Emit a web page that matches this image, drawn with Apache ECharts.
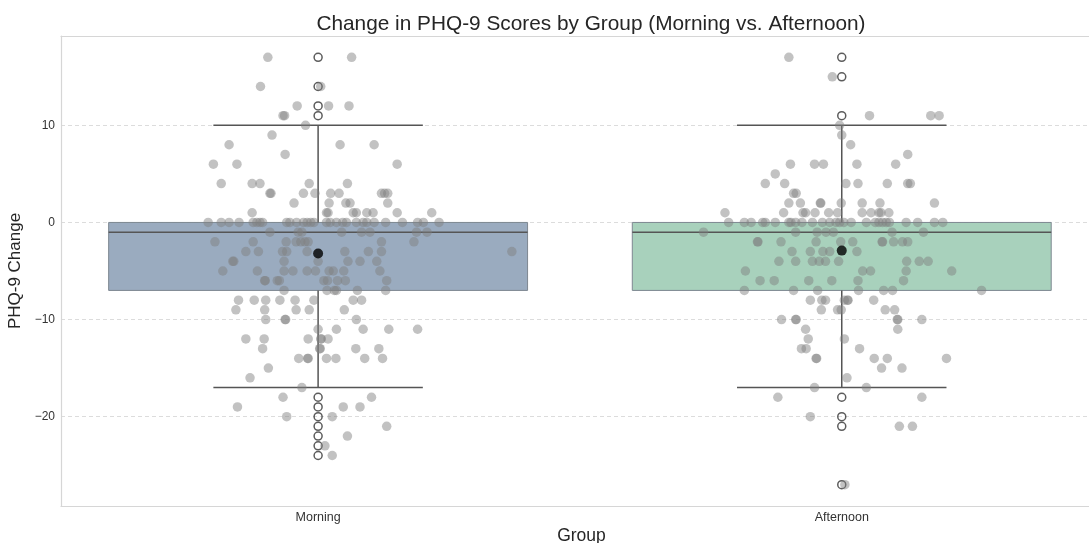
<!DOCTYPE html>
<html>
<head>
<meta charset="utf-8">
<script src="https://cdn.jsdelivr.net/npm/echarts@6/dist/echarts.min.js"></script>
<style>html,body{margin:0;padding:0;background:#fff;}#chart{width:1089px;height:543px;}</style>
</head>
<body>
<div id="chart"></div>
<script>
// ---- data ----
const groups = ['Morning', 'Afternoon'];
const yTicks = [-20, -10, 0, 10];
// box stats: [whiskerLow, Q1, median, Q3, whiskerHigh]
const morningBox = [-17, -7, -1, 0, 10];
const afternoonBox = [-17, -7, -1, 0, 10];
const morningMean = -3.2;
const afternoonMean = -2.9;
const morningFliers = [17, 14, 12, 11, -18, -19, -20, -21, -22, -23, -24];
const afternoonFliers = [17, 15, 11, -18, -20, -21, -27];
// jittered points: [jitter offset (category units), PHQ-9 change]
const morningPoints = [
  [-0.096,17],[0.064,17],[-0.110,14],[0.005,14],[-0.040,12],[0.020,12],[0.059,12],
  [-0.067,11],[-0.064,11],[-0.024,10],[-0.088,9],[-0.170,8],[0.042,8],[0.107,8],
  [-0.063,7],[-0.200,6],[-0.155,6],[0.151,6],
  [-0.185,4],[-0.126,4],[-0.111,4],[-0.017,4],[0.056,4],
  [-0.092,3],[-0.090,3],[-0.028,3],[-0.006,3],[0.024,3],[0.040,3],[0.121,3],[0.127,3],[0.133,3],
  [-0.046,2],[0.021,2],[0.053,2],[0.061,2],[0.133,2],
  [-0.126,1],[0.016,1],[0.019,1],[0.067,1],[0.073,1],[0.093,1],[0.105,1],[0.151,1],[0.217,1],
  [-0.210,0],[-0.185,0],[-0.170,0],[-0.151,0],[-0.124,0],[-0.117,0],[-0.111,0],[-0.106,0],
  [-0.060,0],[-0.054,0],[-0.041,0],[-0.028,0],[-0.021,0],[-0.014,0],[-0.008,0],[0.016,0],
  [0.023,0],[0.035,0],[0.047,0],[0.054,0],[0.073,0],[0.086,0],[0.093,0],[0.107,0],[0.129,0],
  [0.161,0],[0.190,0],[0.201,0],[0.231,0],
  [-0.092,-1],[-0.038,-1],[-0.031,-1],[0.045,-1],[0.083,-1],[0.099,-1],[0.188,-1],[0.208,-1],
  [-0.197,-2],[-0.124,-2],[-0.061,-2],[-0.042,-2],[-0.033,-2],[-0.025,-2],[-0.019,-2],[0.121,-2],[0.183,-2],
  [-0.138,-3],[-0.114,-3],[-0.068,-3],[-0.060,-3],[-0.021,-3],[0.051,-3],[0.096,-3],[0.121,-3],[0.370,-3],
  [-0.163,-4],[-0.161,-4],[-0.065,-4],[0.000,-4],[0.057,-4],[0.080,-4],[0.112,-4],
  [-0.182,-5],[-0.116,-5],[-0.065,-5],[-0.048,-5],[-0.021,-5],[-0.005,-5],[0.021,-5],[0.029,-5],[0.049,-5],[0.118,-5],
  [-0.102,-6],[-0.101,-6],[-0.078,-6],[-0.074,-6],[0.011,-6],[0.018,-6],[0.037,-6],[0.052,-6],[0.131,-6],
  [-0.065,-7],[0.017,-7],[0.031,-7],[0.035,-7],[0.075,-7],[0.129,-7],
  [-0.152,-8],[-0.122,-8],[-0.100,-8],[-0.073,-8],[-0.044,-8],[-0.008,-8],[0.067,-8],[0.083,-8],
  [-0.157,-9],[-0.102,-9],[-0.042,-9],[-0.017,-9],[0.050,-9],
  [-0.100,-10],[-0.063,-10],[-0.062,-10],[0.073,-10],
  [0.000,-11],[0.035,-11],[0.086,-11],[0.135,-11],[0.190,-11],
  [-0.138,-12],[-0.103,-12],[-0.019,-12],[0.005,-12],[0.006,-12],[0.019,-12],
  [-0.106,-13],[0.003,-13],[0.004,-13],[0.072,-13],[0.116,-13],
  [-0.037,-14],[-0.020,-14],[-0.019,-14],[0.016,-14],[0.034,-14],[0.089,-14],[0.123,-14],
  [-0.095,-15],[-0.130,-16],[-0.031,-17],[-0.067,-18],[0.102,-18],
  [-0.154,-19],[0.048,-19],[0.080,-19],[-0.060,-20],[0.027,-20],
  [0.131,-21],[0.056,-22],[0.013,-23],[0.027,-24]
];
const afternoonPoints = [
  [-0.101,17],[-0.018,15],[0.053,11],[0.170,11],[0.186,11],[-0.004,10],[0.000,9],[0.017,8],[0.126,7],
  [-0.098,6],[-0.052,6],[-0.035,6],[0.029,6],[0.103,6],[-0.127,5],
  [-0.146,4],[-0.109,4],[0.008,4],[0.031,4],[0.087,4],[0.126,4],[0.131,4],
  [-0.092,3],[-0.087,3],
  [-0.101,2],[-0.079,2],[-0.041,2],[-0.040,2],[-0.001,2],[0.039,2],[0.073,2],[0.177,2],
  [-0.223,1],[-0.111,1],[-0.074,1],[-0.069,1],[-0.051,1],[-0.025,1],[-0.008,1],[0.039,1],[0.056,1],[0.071,1],[0.075,1],[0.090,1],
  [-0.216,0],[-0.186,0],[-0.173,0],[-0.151,0],[-0.146,0],[-0.127,0],[-0.101,0],[-0.097,0],[-0.088,0],
  [-0.076,0],[-0.056,0],[-0.037,0],[-0.023,0],[-0.011,0],[-0.004,0],[0.004,0],[0.018,0],[0.047,0],
  [0.064,0],[0.071,0],[0.078,0],[0.085,0],[0.091,0],[0.123,0],[0.145,0],[0.177,0],[0.193,0],
  [-0.264,-1],[-0.088,-1],[-0.047,-1],[-0.030,-1],[-0.016,-1],[0.096,-1],[0.156,-1],
  [-0.161,-2],[-0.160,-2],[-0.116,-2],[-0.049,-2],[-0.002,-2],[0.021,-2],[0.077,-2],[0.078,-2],[0.099,-2],[0.116,-2],[0.126,-2],
  [-0.095,-3],[-0.060,-3],[-0.036,-3],[-0.023,-3],[0.029,-3],
  [-0.120,-4],[-0.088,-4],[-0.056,-4],[-0.043,-4],[-0.031,-4],[-0.006,-4],[0.124,-4],[0.148,-4],[0.165,-4],
  [-0.184,-5],[0.040,-5],[0.055,-5],[0.123,-5],[0.210,-5],
  [-0.156,-6],[-0.129,-6],[-0.063,-6],[-0.019,-6],[0.031,-6],[0.118,-6],
  [-0.186,-7],[-0.092,-7],[-0.046,-7],[0.032,-7],[0.080,-7],[0.097,-7],[0.267,-7],
  [-0.060,-8],[-0.038,-8],[-0.031,-8],[0.005,-8],[0.011,-8],[0.012,-8],[0.061,-8],
  [-0.039,-9],[-0.008,-9],[-0.001,-9],[0.083,-9],[0.101,-9],
  [-0.115,-10],[-0.088,-10],[-0.087,-10],[0.106,-10],[0.107,-10],[0.153,-10],
  [-0.069,-11],[0.107,-11],[-0.064,-12],[0.005,-12],
  [-0.077,-13],[-0.068,-13],[0.034,-13],
  [-0.049,-14],[-0.048,-14],[0.062,-14],[0.087,-14],[0.200,-14],
  [0.076,-15],[0.115,-15],[0.010,-16],[-0.052,-17],[0.047,-17],
  [-0.122,-18],[0.153,-18],[-0.060,-20],[0.110,-21],[0.135,-21],[0.006,-27]
];
const boxColors = ['#9aabbf', '#a8d1bc'];

// ---- build ----
const boxData = [[0].concat(morningBox), [1].concat(afternoonBox)];
const stripData = morningPoints.map(p => [0 + p[0], p[1]])
  .concat(afternoonPoints.map(p => [1 + p[0], p[1]]));
const flierData = morningFliers.map(v => [0, v]).concat(afternoonFliers.map(v => [1, v]));
const meanData = [[0, morningMean], [1, afternoonMean]];

const BOX_W = 0.8, CAP_W = 0.4;
const lineColor = '#555555';

function renderBox(params, api) {
  const x = api.value(0);
  const lo = api.value(1), q1 = api.value(2), med = api.value(3), q3 = api.value(4), hi = api.value(5);
  const pL = api.coord([x - BOX_W / 2, q3]);
  const pR = api.coord([x + BOX_W / 2, q1]);
  const cL = api.coord([x - CAP_W / 2, hi])[0];
  const cR = api.coord([x + CAP_W / 2, hi])[0];
  const xc = api.coord([x, 0])[0];
  const yHi = api.coord([x, hi])[1], yLo = api.coord([x, lo])[1];
  const yQ1 = api.coord([x, q1])[1], yQ3 = api.coord([x, q3])[1], yMed = api.coord([x, med])[1];
  const ls = {stroke: lineColor, lineWidth: 1.5};
  return {
    type: 'group',
    children: [
      {type: 'rect', shape: {x: pL[0], y: pL[1], width: pR[0] - pL[0], height: pR[1] - pL[1]},
        style: {fill: boxColors[params.dataIndex], stroke: '#7d8791', lineWidth: 1}},
      {type: 'line', shape: {x1: xc, y1: yQ3, x2: xc, y2: yHi}, style: ls},
      {type: 'line', shape: {x1: xc, y1: yQ1, x2: xc, y2: yLo}, style: ls},
      {type: 'line', shape: {x1: cL, y1: yHi, x2: cR, y2: yHi}, style: ls},
      {type: 'line', shape: {x1: cL, y1: yLo, x2: cR, y2: yLo}, style: ls},
      {type: 'line', shape: {x1: pL[0], y1: yMed, x2: pR[0], y2: yMed}, style: ls}
    ]
  };
}

const font = "'Liberation Sans', Arial, sans-serif";
const frame = {show: true, onZero: false, lineStyle: {color: '#d6d6d6', width: 1.2}};
const chart = echarts.init(document.getElementById('chart'), null, {renderer: 'canvas'});
chart.setOption({
  backgroundColor: '#ffffff',
  animation: false,
  title: {
    text: 'Change in PHQ-9 Scores by Group (Morning vs. Afternoon)',
    left: 586, top: 9, textAlign: 'center',
    textStyle: {fontFamily: font, fontSize: 20.8, fontWeight: 'normal', color: '#262626'}
  },
  grid: {left: 61, top: 36, right: -13, bottom: 37, show: false, containLabel: false, outerBoundsMode: 'none'},
  xAxis: [{
    type: 'value', min: -0.491, max: 1.497,
    name: 'Group', nameLocation: 'middle', nameGap: 21, nameMoveOverlap: false,
    nameTextStyle: {fontFamily: font, fontSize: 17.5, color: '#262626'},
    axisLine: frame, axisTick: {show: false}, splitLine: {show: false},
    axisLabel: {customValues: [0, 1], formatter: v => groups[Math.round(v)], margin: 5,
      fontFamily: font, fontSize: 12.5, color: '#333333'}
  }, {
    type: 'value', position: 'top', min: -0.491, max: 1.497,
    axisLine: frame, axisTick: {show: false}, axisLabel: {show: false}, splitLine: {show: false}
  }],
  yAxis: {
    type: 'value', min: -29.2, max: 19.2,
    name: 'PHQ-9 Change', nameLocation: 'middle', nameGap: 34, nameRotate: 90,
    nameTextStyle: {fontFamily: font, fontSize: 17, color: '#262626'},
    axisLine: frame,
    axisTick: {show: false, customValues: yTicks},
    axisLabel: {customValues: yTicks, margin: 6, fontFamily: font, fontSize: 12, color: '#333333',
      formatter: v => String(v).replace('-', '\u2212')},
    splitLine: {show: true, lineStyle: {color: '#dcdcdc', type: [4, 3], width: 1}}
  },
  series: [
    {type: 'custom', renderItem: renderBox, data: boxData, z: 2, encode: {x: 0, y: [1, 2, 3, 4, 5]}},
    {type: 'scatter', data: flierData, symbol: 'circle', symbolSize: 8, z: 3,
      itemStyle: {color: 'rgba(255,255,255,0)', borderColor: '#333333', borderWidth: 1.5}},
    {type: 'scatter', data: stripData, symbol: 'circle', symbolSize: 9.5, z: 4,
      itemStyle: {color: 'rgba(128,128,128,0.6)'}},
    {type: 'scatter', data: meanData, symbol: 'circle', symbolSize: 10, z: 5,
      itemStyle: {color: '#000000'}}
  ]
});
</script>
</body>
</html>
